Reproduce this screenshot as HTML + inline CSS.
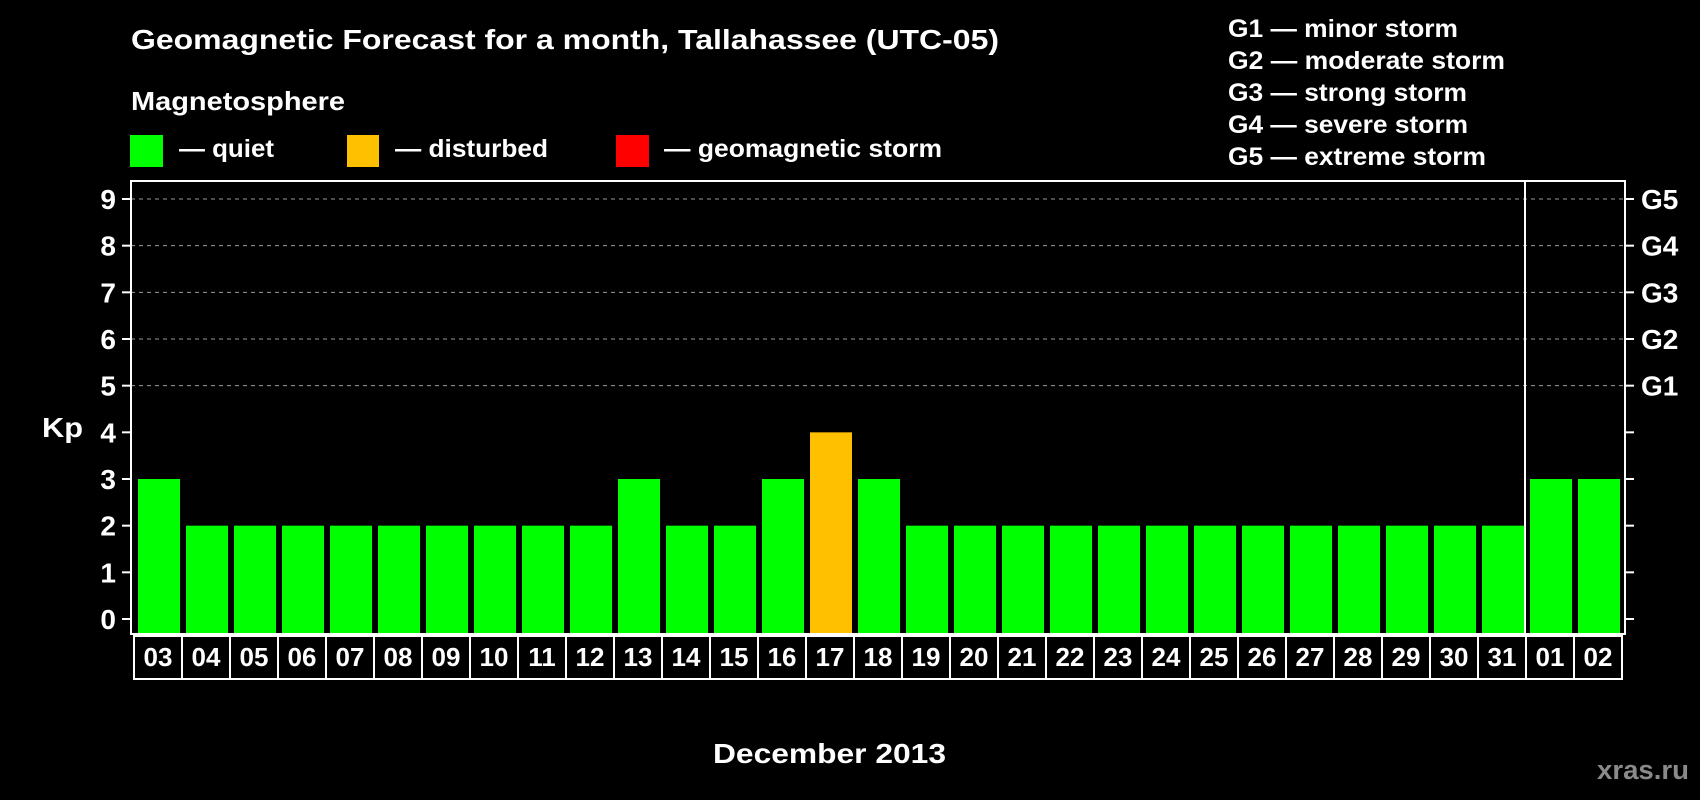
<!DOCTYPE html>
<html><head><meta charset="utf-8"><style>
html,body{margin:0;padding:0;background:#000;}
svg{display:block;font-family:"Liberation Sans",Arial,sans-serif;font-weight:bold;}
</style></head><body>
<svg id="chart" width="1700" height="800" viewBox="0 0 1700 800" xmlns="http://www.w3.org/2000/svg">
<rect width="1700" height="800" fill="#000"/>
<text x="131" y="49" fill="#fff" font-size="28" textLength="868" lengthAdjust="spacingAndGlyphs">Geomagnetic Forecast for a month, Tallahassee (UTC-05)</text>
<text x="131" y="110" fill="#fff" font-size="26" textLength="214" lengthAdjust="spacingAndGlyphs">Magnetosphere</text>
<g><rect x="130" y="135" width="33" height="32" fill="#00ff00"/><text x="179" y="157" fill="#fff" font-size="25" textLength="95" lengthAdjust="spacingAndGlyphs">— quiet</text></g>
<g><rect x="347" y="135" width="32" height="32" fill="#ffc000"/><text x="395" y="157" fill="#fff" font-size="25" textLength="153" lengthAdjust="spacingAndGlyphs">— disturbed</text></g>
<g><rect x="616" y="135" width="33" height="32" fill="#ff0000"/><text x="664" y="157" fill="#fff" font-size="25" textLength="278" lengthAdjust="spacingAndGlyphs">— geomagnetic storm</text></g>
<g fill="#fff" font-size="25">
<text x="1228" y="37" textLength="230" lengthAdjust="spacingAndGlyphs">G1 — minor storm</text>
<text x="1228" y="69" textLength="277" lengthAdjust="spacingAndGlyphs">G2 — moderate storm</text>
<text x="1228" y="101" textLength="239" lengthAdjust="spacingAndGlyphs">G3 — strong storm</text>
<text x="1228" y="133" textLength="240" lengthAdjust="spacingAndGlyphs">G4 — severe storm</text>
<text x="1228" y="165" textLength="258" lengthAdjust="spacingAndGlyphs">G5 — extreme storm</text>
</g>
<text x="42" y="437" fill="#fff" font-size="28" textLength="41" lengthAdjust="spacingAndGlyphs">Kp</text>
<g id="grid"></g>
<g id="bars"></g>
<g id="axes"></g>
<text x="713" y="763" fill="#fff" font-size="28" textLength="233" lengthAdjust="spacingAndGlyphs">December 2013</text>
<text x="1597" y="779" fill="#8a8a8a" font-size="27" textLength="92" lengthAdjust="spacingAndGlyphs">xras.ru</text>
</svg>
<script>
const days = ["03","04","05","06","07","08","09","10","11","12","13","14","15","16","17","18","19","20","21","22","23","24","25","26","27","28","29","30","31","01","02"];
const kp = [3,2,2,2,2,2,2,2,2,2,3,2,2,3,4,3,2,2,2,2,2,2,2,2,2,2,2,2,2,3,3];
const yTicks = [0,1,2,3,4,5,6,7,8,9];
const gLabels = ["G1","G2","G3","G4","G5"];
const gLevels = [5,6,7,8,9];
const monthBreak = 29;

const NS = "http://www.w3.org/2000/svg";
const plotL = 131, plotR = 1625, plotT = 181, plotB = 634;
const y0 = 619, unit = (619 - 199) / 9;
const pitch = 48, firstX = 134;
function yScale(v){ return y0 - v * unit; }
function xScale(i){ return firstX + i * pitch; }
function mk(tag, attrs, parent){ const e = document.createElementNS(NS, tag); for (const k in attrs) e.setAttribute(k, attrs[k]); parent.appendChild(e); return e; }
function color(v){ return v >= 5 ? "#ff0000" : (v >= 4 ? "#ffc000" : "#00ff00"); }

const grid = document.getElementById("grid");
const bars = document.getElementById("bars");
const axes = document.getElementById("axes");

gLevels.forEach((lv, i) => {
  const y = yScale(lv);
  const ln = mk("line", {x1: plotL, x2: plotR, y1: y, y2: y, stroke: "#9a9a9a", "stroke-width": 1, "stroke-dasharray": "4,4"}, grid);
  
  
  const t = mk("text", {x: 1641, y: y + 10, fill: "#fff", "font-size": 28}, axes);
  t.textContent = gLabels[i];
  
  
});

kp.forEach((v, i) => {
  const x = xScale(i) + 4;
  const r = mk("rect", {x: x, y: yScale(v), width: 42, height: plotB - yScale(v), fill: color(v)}, bars);
  
  
});

yTicks.forEach(v => {
  const y = yScale(v);
  const tl = mk("line", {x1: 122, x2: plotL, y1: y, y2: y, stroke: "#fff", "stroke-width": 2}, axes);
  
  
  const tr = mk("line", {x1: plotR, x2: 1634, y1: y, y2: y, stroke: "#fff", "stroke-width": 2}, axes);
  
  
  const t = mk("text", {x: 116, y: y + 10, fill: "#fff", "font-size": 28, "text-anchor": "end"}, axes);
  t.textContent = v;
  
  
});

const frame = mk("rect", {x: plotL, y: plotT, width: plotR - plotL, height: plotB - plotT, fill: "none", stroke: "#fff", "stroke-width": 2}, axes);


const divX = xScale(monthBreak) - 1;
const div = mk("line", {x1: divX, x2: divX, y1: plotT, y2: plotB, stroke: "#fff", "stroke-width": 2}, axes);



days.forEach((d, i) => {
  const x = xScale(i);
  const b = mk("rect", {x: x, y: 636, width: pitch, height: 43, fill: "none", stroke: "#fff", "stroke-width": 2}, axes);
  
  
  const t = mk("text", {x: x + pitch / 2, y: 666, fill: "#fff", "font-size": 26, "text-anchor": "middle"}, axes);
  t.textContent = d;
  
  
});
</script>
</body></html>
